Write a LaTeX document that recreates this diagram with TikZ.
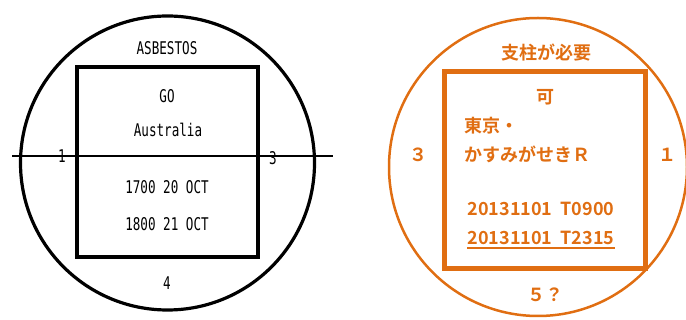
\documentclass[tikz,border=0pt]{standalone}
\usepackage{fontspec}
\setmainfont{DejaVu Sans Mono}[FakeStretch=0.72]
\newfontfamily\jp{Noto Sans CJK JP}[BoldFont={* Bold}]
\definecolor{org}{RGB}{224,110,18}
\begin{document}
\begin{tikzpicture}[x=1pt,y=-1pt,
  ltxt/.style={font=\fontsize{17.5}{17.5}\selectfont, inner sep=0pt, anchor=center},
  rtxt/.style={font=\jp\bfseries\fontsize{18}{18}\selectfont, text=org, inner sep=0pt},
  rdig/.style={font=\jp\bfseries\fontsize{18}{18}\selectfont, text=org, inner sep=0pt}]
\useasboundingbox (0,0) rectangle (686,320);
% left
\draw[line width=3.2pt] (167.5,163) circle [radius=147];
\draw[line width=4pt] (77,67) rectangle (258,257);
\draw[line width=1.5pt] (12,156) coordinate (la) -- (333,156) coordinate (lb);
\node[ltxt] (asb) at (167,48) {ASBESTOS};
\node[ltxt] (go) at (167,96) {GO};
\node[ltxt] (aus) at (168,130) {Australia};
\node[ltxt] (t1) at (167,187) {1700 20 OCT};
\node[ltxt] (t2) at (167,224) {1800 21 OCT};
\node[ltxt] (l1) at (62,156) {1};
\node[ltxt] (l3) at (273,158) {3};
\node[ltxt] (l4) at (167,283) {4};
% right
\draw[org, line width=2.5pt] (538,167) circle [radius=149];
\draw[org, line width=5pt] (444,72) rectangle (645,269);
\node[rtxt] (sc) at (546,53) {支柱が必要};
\node[rtxt] (ka) at (545,97) {可};
\node[rtxt, anchor=west] (tk) at (464,126) {東京・};
\node[rtxt, anchor=west] (ks) at (464,154) {かすみがせきＲ};
\node[rtxt] (r3) at (418,155) {３};
\node[rtxt] (r1) at (667,155) {１};
\node[rdig] (d1) at (541,209) {20131101\ \ T0900};
\node[rdig] (d2) at (541,238) {20131101\ \ T2315};
\draw[org, line width=1.5pt] (d2.south west) ++(0,3) coordinate (u1) -- (d2.south east |- u1);
\node[rtxt] (r5) at (545,295) {５？};
\end{tikzpicture}
\end{document}
